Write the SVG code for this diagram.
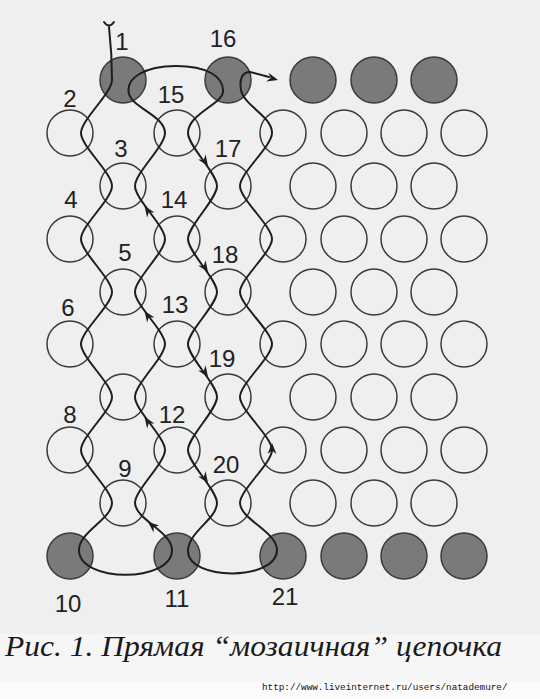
<svg xmlns="http://www.w3.org/2000/svg" xmlns:xlink="http://www.w3.org/1999/xlink" width="540" height="699" viewBox="0 0 540 699">
<style>
.o{fill:none;stroke:#3a3a3a;stroke-width:1.5}
.f{fill:#7a7a7a;stroke:#3a3a3a;stroke-width:1.5}
.t{font-family:"Liberation Sans",Arial,sans-serif;font-size:24px;fill:#222;text-anchor:middle}
.th{fill:none;stroke:#1e1e1e;stroke-width:2;stroke-linecap:round;stroke-linejoin:round}
.ar{fill:#1e1e1e}
</style>
<defs>
<path id="ah" d="M0,0 L-11,-4.5 L-7.5,0 L-11,4.5 Z"/>
</defs>
<rect x="0" y="0" width="540" height="699" fill="#efefef"/>
<rect x="0" y="634" width="540" height="48" fill="#f6f6f6"/>
<rect x="0" y="682" width="540" height="17" fill="#fbfbfb"/>

<g id="beads">
<g id="n1"><circle class="f" cx="123" cy="80" r="23"/><text class="t" x="122" y="50">1</text></g>
<g id="n16"><circle class="f" cx="228" cy="80" r="23"/><text class="t" x="223" y="47">16</text></g>
<g id="r0c3"><circle class="f" cx="313" cy="80" r="23"/></g>
<g id="r0c4"><circle class="f" cx="374" cy="80" r="23"/></g>
<g id="r0c5"><circle class="f" cx="434" cy="80" r="23"/></g>

<g id="n2"><circle class="o" cx="70" cy="133" r="23"/><text class="t" x="70" y="107">2</text></g>
<g id="n15"><circle class="o" cx="177" cy="133" r="23"/><text class="t" x="171" y="103">15</text></g>
<g id="r1c3"><circle class="o" cx="283" cy="133" r="23"/></g>
<g id="r1c4"><circle class="o" cx="344" cy="133" r="23"/></g>
<g id="r1c5"><circle class="o" cx="404" cy="133" r="23"/></g>
<g id="r1c6"><circle class="o" cx="464" cy="133" r="23"/></g>

<g id="n3"><circle class="o" cx="123" cy="186" r="23"/><text class="t" x="121" y="157">3</text></g>
<g id="n17"><circle class="o" cx="228" cy="186" r="23"/><text class="t" x="228" y="157">17</text></g>
<g id="r2c3"><circle class="o" cx="313" cy="186" r="23"/></g>
<g id="r2c4"><circle class="o" cx="374" cy="186" r="23"/></g>
<g id="r2c5"><circle class="o" cx="434" cy="186" r="23"/></g>

<g id="n4"><circle class="o" cx="70" cy="239" r="23"/><text class="t" x="71" y="208">4</text></g>
<g id="n14"><circle class="o" cx="177" cy="239" r="23"/><text class="t" x="174" y="208">14</text></g>
<g id="r3c3"><circle class="o" cx="283" cy="239" r="23"/></g>
<g id="r3c4"><circle class="o" cx="344" cy="239" r="23"/></g>
<g id="r3c5"><circle class="o" cx="404" cy="239" r="23"/></g>
<g id="r3c6"><circle class="o" cx="464" cy="239" r="23"/></g>

<g id="n5"><circle class="o" cx="123" cy="292" r="23"/><text class="t" x="125" y="261">5</text></g>
<g id="n18"><circle class="o" cx="228" cy="292" r="23"/><text class="t" x="225" y="263">18</text></g>
<g id="r4c3"><circle class="o" cx="313" cy="292" r="23"/></g>
<g id="r4c4"><circle class="o" cx="374" cy="292" r="23"/></g>
<g id="r4c5"><circle class="o" cx="434" cy="292" r="23"/></g>

<g id="n6"><circle class="o" cx="70" cy="344" r="23"/><text class="t" x="68" y="316">6</text></g>
<g id="n13"><circle class="o" cx="177" cy="344" r="23"/><text class="t" x="175" y="313">13</text></g>
<g id="r5c3"><circle class="o" cx="283" cy="344" r="23"/></g>
<g id="r5c4"><circle class="o" cx="344" cy="344" r="23"/></g>
<g id="r5c5"><circle class="o" cx="404" cy="344" r="23"/></g>
<g id="r5c6"><circle class="o" cx="464" cy="344" r="23"/></g>

<g id="n7"><circle class="o" cx="123" cy="397" r="23"/></g>
<g id="n19"><circle class="o" cx="228" cy="397" r="23"/><text class="t" x="222" y="367">19</text></g>
<g id="r6c3"><circle class="o" cx="313" cy="397" r="23"/></g>
<g id="r6c4"><circle class="o" cx="374" cy="397" r="23"/></g>
<g id="r6c5"><circle class="o" cx="434" cy="397" r="23"/></g>

<g id="n8"><circle class="o" cx="70" cy="450" r="23"/><text class="t" x="70" y="423">8</text></g>
<g id="n12"><circle class="o" cx="177" cy="450" r="23"/><text class="t" x="172" y="423">12</text></g>
<g id="r7c3"><circle class="o" cx="283" cy="450" r="23"/></g>
<g id="r7c4"><circle class="o" cx="344" cy="450" r="23"/></g>
<g id="r7c5"><circle class="o" cx="404" cy="450" r="23"/></g>
<g id="r7c6"><circle class="o" cx="464" cy="450" r="23"/></g>

<g id="n9"><circle class="o" cx="123" cy="503" r="23"/><text class="t" x="125" y="477">9</text></g>
<g id="n20"><circle class="o" cx="228" cy="503" r="23"/><text class="t" x="226" y="473">20</text></g>
<g id="r8c3"><circle class="o" cx="313" cy="503" r="23"/></g>
<g id="r8c4"><circle class="o" cx="374" cy="503" r="23"/></g>
<g id="r8c5"><circle class="o" cx="434" cy="503" r="23"/></g>

<g id="n10"><circle class="f" cx="70" cy="556" r="23"/><text class="t" x="68" y="612">10</text></g>
<g id="n11"><circle class="f" cx="177" cy="556" r="23"/><text class="t" x="177" y="607">11</text></g>
<g id="n21"><circle class="f" cx="283" cy="556" r="23"/><text class="t" x="285" y="605">21</text></g>
<g id="r9c4"><circle class="f" cx="344" cy="556" r="23"/></g>
<g id="r9c5"><circle class="f" cx="404" cy="556" r="23"/></g>
<g id="r9c6"><circle class="f" cx="464" cy="556" r="23"/></g>
</g>

<g id="connectors">
<path class="th" d="M104,22 Q109,29 114,22"/>
<path class="th" d="M109,27 C111,45 112,62 112,80
C112,93 81,120 81,133 C81,146 112,173 112,186
C112,199 81,226 81,239 C81,252 112,279 112,292
C112,305 81,331 81,344 C81,357 112,384 112,397
C112,410 81,437 81,450 C81,463 112,490 112,503
C112,519 79,532 79,550 C79,583 172,583 172,550 C172,532 135,519 135,503
C135,490 165,463 165,450 C165,437 135,410 135,397
C135,384 165,357 165,344 C165,331 135,305 135,292
C135,279 165,252 165,239 C165,226 135,199 135,186
C135,173 165,146 165,133
C165,116 133,108 129,94 C125,78 145,66 176,66 C206,66 224,76 223,92 C222,104 188,114 188,133
C188,146 217,173 217,186 C217,199 188,226 188,239
C188,252 217,279 217,292 C217,305 188,331 188,344
C188,357 217,384 217,397 C217,410 188,437 188,450
C188,463 217,490 217,503
C217,519 188,532 188,551 C188,581 277,581 277,550 C277,532 240,519 240,503
C240,490 272,463 272,450 C272,437 240,410 240,397
C240,384 272,357 272,344 C272,331 240,305 240,292
C240,279 272,252 272,239 C272,226 240,199 240,186
C240,173 272,146 272,133
C272,116 244,106 241,90 C239,78 243,72 250,72 L269,77"/>
<use class="ar" href="#ah" xlink:href="#ah" transform="translate(278,80) rotate(15)"/>
<use class="ar" href="#ah" xlink:href="#ah" transform="translate(208,166) rotate(56)"/>
<use class="ar" href="#ah" xlink:href="#ah" transform="translate(208,272) rotate(56)"/>
<use class="ar" href="#ah" xlink:href="#ah" transform="translate(208,377) rotate(56)"/>
<use class="ar" href="#ah" xlink:href="#ah" transform="translate(208,483) rotate(56)"/>
<use class="ar" href="#ah" xlink:href="#ah" transform="translate(144.5,206) rotate(-125)"/>
<use class="ar" href="#ah" xlink:href="#ah" transform="translate(144.5,311) rotate(-125)"/>
<use class="ar" href="#ah" xlink:href="#ah" transform="translate(144.5,417) rotate(-125)"/>
<use class="ar" href="#ah" xlink:href="#ah" transform="translate(148,522) rotate(-140)"/>
<use class="ar" href="#ah" xlink:href="#ah" transform="translate(272,443) rotate(-90)"/>
</g>

<text x="5" y="656" textLength="497" lengthAdjust="spacingAndGlyphs" font-family="'Liberation Serif','Times New Roman',serif" font-style="italic" font-size="30" fill="#1a1a1a">Рис. 1. Прямая “мозаичная” цепочка</text>
<text x="262" y="690" font-family="'Liberation Mono','Courier New',monospace" font-size="9.3" fill="#111">http://www.liveinternet.ru/users/natademure/</text>
</svg>
